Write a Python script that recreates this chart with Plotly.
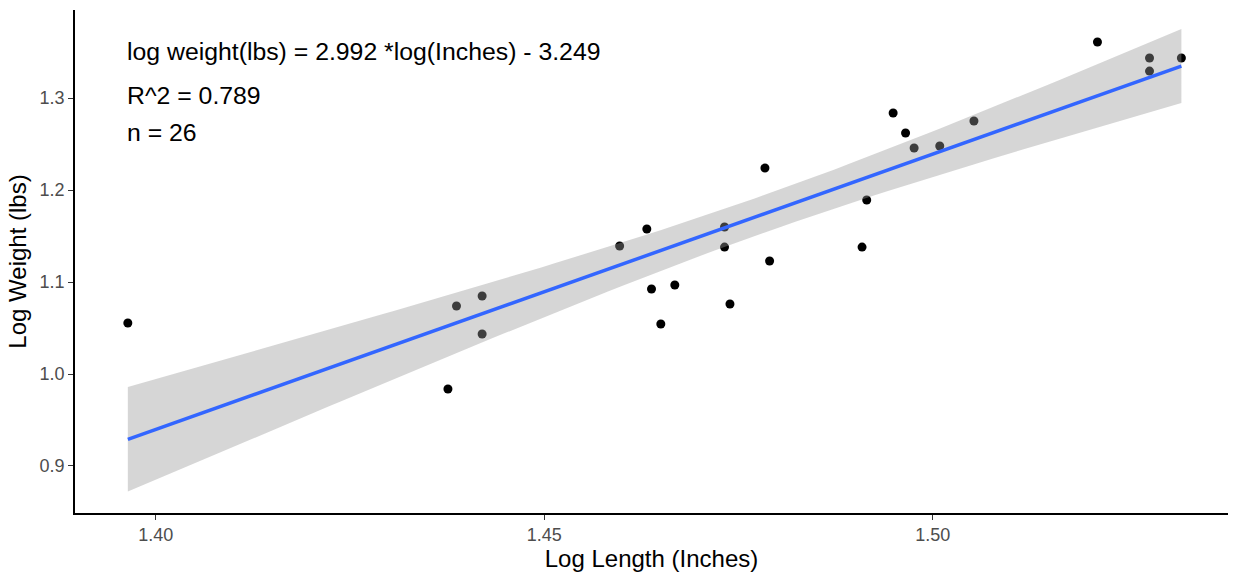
import numpy as np
import plotly.graph_objects as go

# Log-transformed length (inches) and weight (lbs) measurements
log_length = [1.3964, 1.4376, 1.4387, 1.4420, 1.4420, 1.4597, 1.4632, 1.4638,
              1.4650, 1.4668, 1.4732, 1.4732, 1.4739, 1.4784, 1.4790, 1.4909,
              1.4915, 1.4949, 1.4965, 1.4976, 1.5009, 1.5053, 1.5212, 1.5279,
              1.5279, 1.5320]
log_weight = [1.0554, 0.9837, 1.0739, 1.0848, 1.0435, 1.1391, 1.1576, 1.0924,
              1.0543, 1.0967, 1.1598, 1.1380, 1.0761, 1.2239, 1.1228, 1.1380,
              1.1891, 1.2837, 1.2620, 1.2457, 1.2478, 1.2750, 1.3609, 1.3435,
              1.3293, 1.3435]

# Fitted model coefficients
slope = 2.992
intercept = -3.249
r_squared = 0.789

x = np.array(log_length)
y = np.array(log_weight)
n = len(x)

# 95% confidence band around the fitted line
xs = np.linspace(x.min(), x.max(), 80)
fit = slope * xs + intercept
resid = y - (slope * x + intercept)
s = np.sqrt(np.sum(resid ** 2) / (n - 2))
sxx = np.sum((x - x.mean()) ** 2)
t_crit = 2.0639  # t(0.975, df=24)
half = t_crit * s * np.sqrt(1 / n + (xs - x.mean()) ** 2 / sxx)
upper = fit + half
lower = fit - half

FONT = "Liberation Sans, Arial"

fig = go.Figure()

fig.add_trace(go.Scatter(
    x=log_length, y=log_weight, mode="markers",
    marker=dict(color="black", size=9), showlegend=False, hoverinfo="x+y"))

fig.add_trace(go.Scatter(
    x=np.concatenate([xs, xs[::-1]]), y=np.concatenate([upper, lower[::-1]]),
    fill="toself", fillcolor="rgba(153,153,153,0.4)", line=dict(width=0),
    mode="lines", showlegend=False, hoverinfo="skip"))

fig.add_trace(go.Scatter(
    x=xs, y=fit, mode="lines", line=dict(color="#3366FF", width=3.5),
    showlegend=False))

labels = [
    f"log weight(lbs) = {slope} *log(Inches) - {abs(intercept)}",
    f"R^2 = {r_squared}",
    f"n = {n}",
]
label_y = [1.3505, 1.303, 1.263]
for txt, ly in zip(labels, label_y):
    fig.add_annotation(x=x.min(), y=ly, text=txt, showarrow=False,
                       xanchor="left", yanchor="middle", xshift=-3,
                       font=dict(family=FONT, size=24.8, color="black"))

axis_common = dict(
    showgrid=False, zeroline=False, showline=True, linecolor="black", linewidth=1.5,
    ticks="outside", ticklen=5, tickwidth=1.2, tickcolor="#333333",
    tickfont=dict(family=FONT, size=18, color="#4D4D4D"),
    title_font=dict(family=FONT, size=24, color="black"),
)

fig.update_xaxes(range=[1.3896, 1.538], tickvals=[1.40, 1.45, 1.50],
                 ticktext=["1.40", "1.45", "1.50"], title_text="Log Length (Inches)",
                 title_standoff=3, **axis_common)
fig.update_yaxes(range=[0.8489, 1.3957], tickvals=[0.9, 1.0, 1.1, 1.2, 1.3],
                 ticktext=["0.9", "1.0", "1.1", "1.2", "1.3"], title_text="Log Weight (lbs)",
                 title_standoff=6, **axis_common)

fig.update_layout(
    width=1236, height=575, plot_bgcolor="white", paper_bgcolor="white",
    margin=dict(l=75, r=8, t=10, b=62),
)

fig.write_html("out.html")
